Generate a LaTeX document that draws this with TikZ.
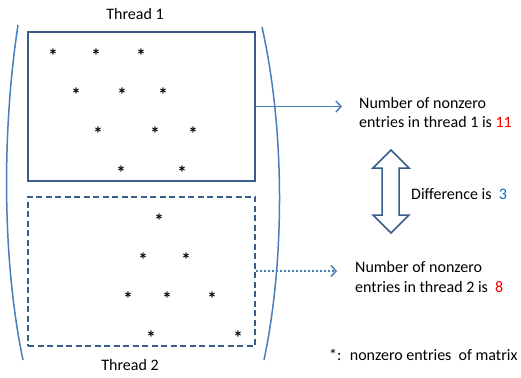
\documentclass[tikz,border=0pt]{standalone}
\usepackage{fontspec}
\setmainfont{Carlito}
\usetikzlibrary{arrows.meta}
\definecolor{boxblue}{HTML}{385D8A}
\definecolor{lineblue}{HTML}{4A7EBB}
\definecolor{diffblue}{HTML}{0070C0}

\begin{document}
\begin{tikzpicture}[x=1pt, y=-1pt, >={Straight Barb[length=5pt, width=11pt]},
  font=\fontsize{16}{19.5}\selectfont,
  block/.style={draw=boxblue, line width=2pt, minimum width=227pt,
    minimum height=149pt, inner sep=0pt},
  nz/.style={inner sep=0pt, yshift=-3pt, font=\fontsize{19}{20}\selectfont\bfseries},
  lbl/.style={inner sep=0pt, align=left, anchor=west},
  link/.style={->, draw=lineblue, line width=1.5pt}]
  \useasboundingbox (0,0) rectangle (521,377);
  % matrix brackets
  \draw[lineblue, line width=1.5pt] (18,25) .. controls (2,130) and (2,260) .. (23,360);
  \draw[lineblue, line width=1.5pt] (262,27) .. controls (285,130) and (285,260) .. (264,360);
  % row blocks of the two threads
  \node[block] (thr1) at (141.5,106.5) {};
  \node[block, dash pattern=on 6pt off 3.5pt] (thr2) at (141.5,271) {};
  \node[inner sep=0pt] (lab1) at (135,14) {Thread 1};
  \node[inner sep=0pt] (lab2) at (130,365) {Thread 2};
  % nonzeros of thread 1
  \foreach \x/\y [count=\k] in {53/53, 96/53, 141/53, 76/92, 122/92, 163/92,
      98/131, 155/131, 193/131, 121/170, 182/170}
    \node[nz] (a\k) at (\x,\y) {*};
  % nonzeros of thread 2
  \foreach \x/\y [count=\k] in {159/218, 143/257, 186/257, 128/296, 167/296,
      212/296, 151/335, 238/335}
    \node[nz] (b\k) at (\x,\y) {*};
  % counts
  \node[lbl] (cnt1) at (359,112.5) {Number of nonzero\\entries in thread 1 is \textcolor{red}{11}};
  \node[lbl] (cnt2) at (355,277) {Number of nonzero\\entries in thread 2 is~ \textcolor{red}{8}};
  \draw[link, shorten >=17pt] (thr1.east) -- (thr1.east -| cnt1.west);
  \draw[link, dash pattern=on 2pt off 2pt, shorten >=18pt] (thr2.east) -- (thr2.east -| cnt2.west);
  % difference
  \draw[boxblue, line width=1.5pt, line join=miter]
    (391,150) -- (409,168) -- (399,168) -- (399,215) -- (409,215) -- (391,233)
    -- (373,215) -- (382,215) -- (382,168) -- (373,168) -- cycle;
  \node[lbl] (diff) at (411,194.5) {Difference is~ \textcolor{diffblue}{3}};
  % legend
  \node[lbl] (note) at (329,354.5) {*:~ nonzero entries~ of matrix};
\end{tikzpicture}
\end{document}
